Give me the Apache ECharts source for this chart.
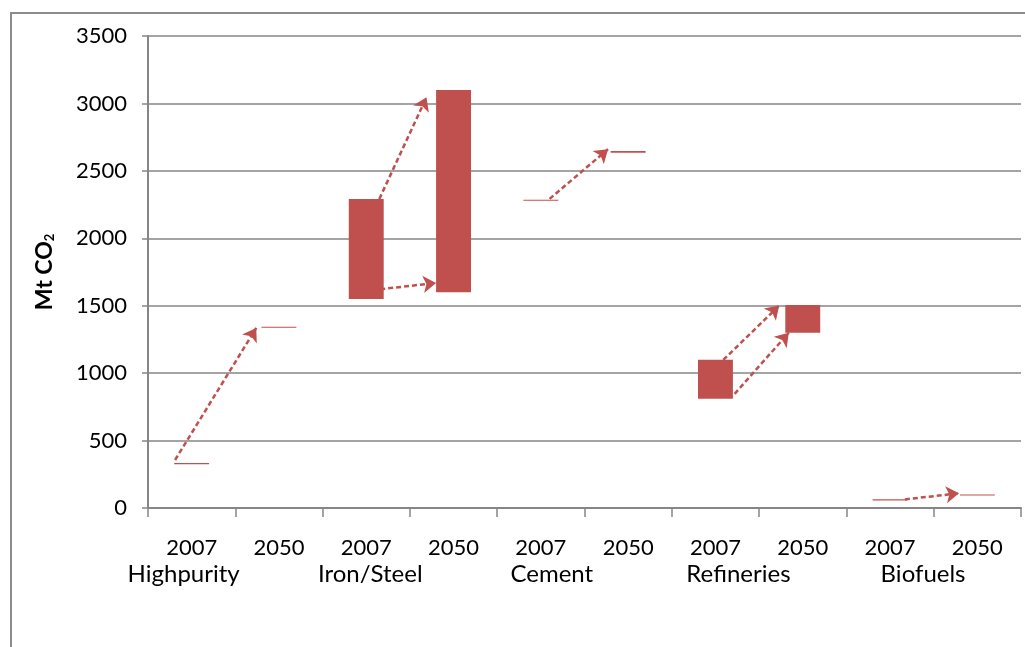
<!DOCTYPE html>
<html><head><meta charset="utf-8">
<script src="https://cdn.jsdelivr.net/npm/echarts@6/dist/echarts.min.js"></script>
<style>html,body{margin:0;padding:0;background:#fff}#c{width:1025px;height:647px}</style>
</head><body><div id="c"></div>
<script>
// ---- data ----
const groups = ['Highpurity', 'Iron/Steel', 'Cement', 'Refineries', 'Biofuels'];
const years = ['2007', '2050'];
// floating bar ranges (Mt CO2), one per group-year slot
const lows  = [325, 1336, 1550, 1600, 2278, 2634, 810, 1300, 56, 92];
const highs = [333, 1344, 2292, 3100, 2286, 2648, 1100, 1505, 64, 100];
// arrows: [xStart, yStart, xEnd, yEnd] in slot units (slot i spans i..i+1)
const arrows = [
  [0.31, 356, 1.24, 1335],
  [2.65, 2292, 3.19, 3045],
  [2.66, 1622, 3.30, 1669],
  [4.60, 2292, 5.27, 2661],
  [6.59, 1098, 7.23, 1501],
  [6.72, 846, 7.34, 1300],
  [8.67, 64, 9.29, 109]
];
const yTicks = [0, 500, 1000, 1500, 2000, 2500, 3000, 3500];

// ---- chart ----
const categories = [];
groups.forEach(g => years.forEach(y => categories.push(g + ' ' + y)));
const heights = highs.map((h, i) => h - lows[i]);
const FONT = 'Lato';
const shifts = [-8, 4, 11, 23, 33];
const rich = {};
groups.forEach((g, i) => {
  const s = shifts[i];
  rich['g' + i] = {
    fontFamily: FONT, fontSize: 24, color: '#000', lineHeight: 27,
    padding: s >= 0 ? [0, 0, 0, 2 * s] : [0, -2 * s, 0, 0]
  };
});

const chart = echarts.init(document.getElementById('c'));
chart.setOption({
  animation: false,
  backgroundColor: '#fff',
  graphic: [{
    type: 'rect', shape: { x: 11, y: 13, width: 1030, height: 660 },
    style: { fill: 'none', stroke: '#8c8c8c', lineWidth: 2 }, silent: true, z: -10
  }],
  grid: { left: 148, right: 4, top: 36, bottom: 139 },
  xAxis: [{
    type: 'category', data: categories,
    axisLine: { lineStyle: { color: '#868686', width: 2 } },
    axisTick: { show: true, length: 9, lineStyle: { color: '#868686', width: 1.5 } },
    axisLabel: {
      interval: 0, margin: 26, fontFamily: FONT, fontSize: 22, color: '#000', lineHeight: 27,
      formatter: (v, idx) => {
        const yr = years[idx % 2];
        if (idx % 2 === 0) {
          const gi = idx / 2;
          return yr + '\n{g' + gi + '|' + groups[gi] + '}';
        }
        return yr + '\n ';
      },
      rich: rich
    }
  }, {
    type: 'value', min: 0, max: 10, show: false
  }],
  yAxis: {
    type: 'value', min: 0, max: 3500, interval: 500,
    name: 'Mt CO{s|2}', nameLocation: 'middle', nameGap: 92,
    nameTextStyle: {
      fontFamily: FONT, fontSize: 23, fontWeight: 'bold', color: '#000',
      rich: { s: { fontFamily: FONT, fontSize: 13, fontWeight: 'bold', color: '#000', verticalAlign: 'bottom', padding: [10, 0, 0, 0] } }
    },
    axisLine: { show: true, lineStyle: { color: '#868686', width: 2 } },
    axisTick: { show: true, length: 6, lineStyle: { color: '#868686', width: 1.5 } },
    axisLabel: { margin: 21, fontFamily: FONT, fontSize: 22, color: '#000',
      formatter: v => String(v) },
    splitLine: { lineStyle: { color: '#868686', width: 1.5 } }
  },
  series: [{
    type: 'bar', stack: 'r', data: lows, barWidth: '40%',
    itemStyle: { color: 'transparent' }, silent: true
  }, {
    type: 'bar', stack: 'r', data: heights, barWidth: '40%',
    itemStyle: { color: '#C0504D' }
  }, {
    type: 'lines', coordinateSystem: 'cartesian2d', xAxisIndex: 1, yAxisIndex: 0,
    symbol: ['none', 'arrow'], symbolSize: [0, 13],
    lineStyle: { color: '#C0504D', width: 2.5, type: [5, 3], opacity: 1 },
    data: arrows.map(a => ({ coords: [[a[0], a[1]], [a[2], a[3]]] })),
    z: 5
  }]
});
</script>
</body></html>
